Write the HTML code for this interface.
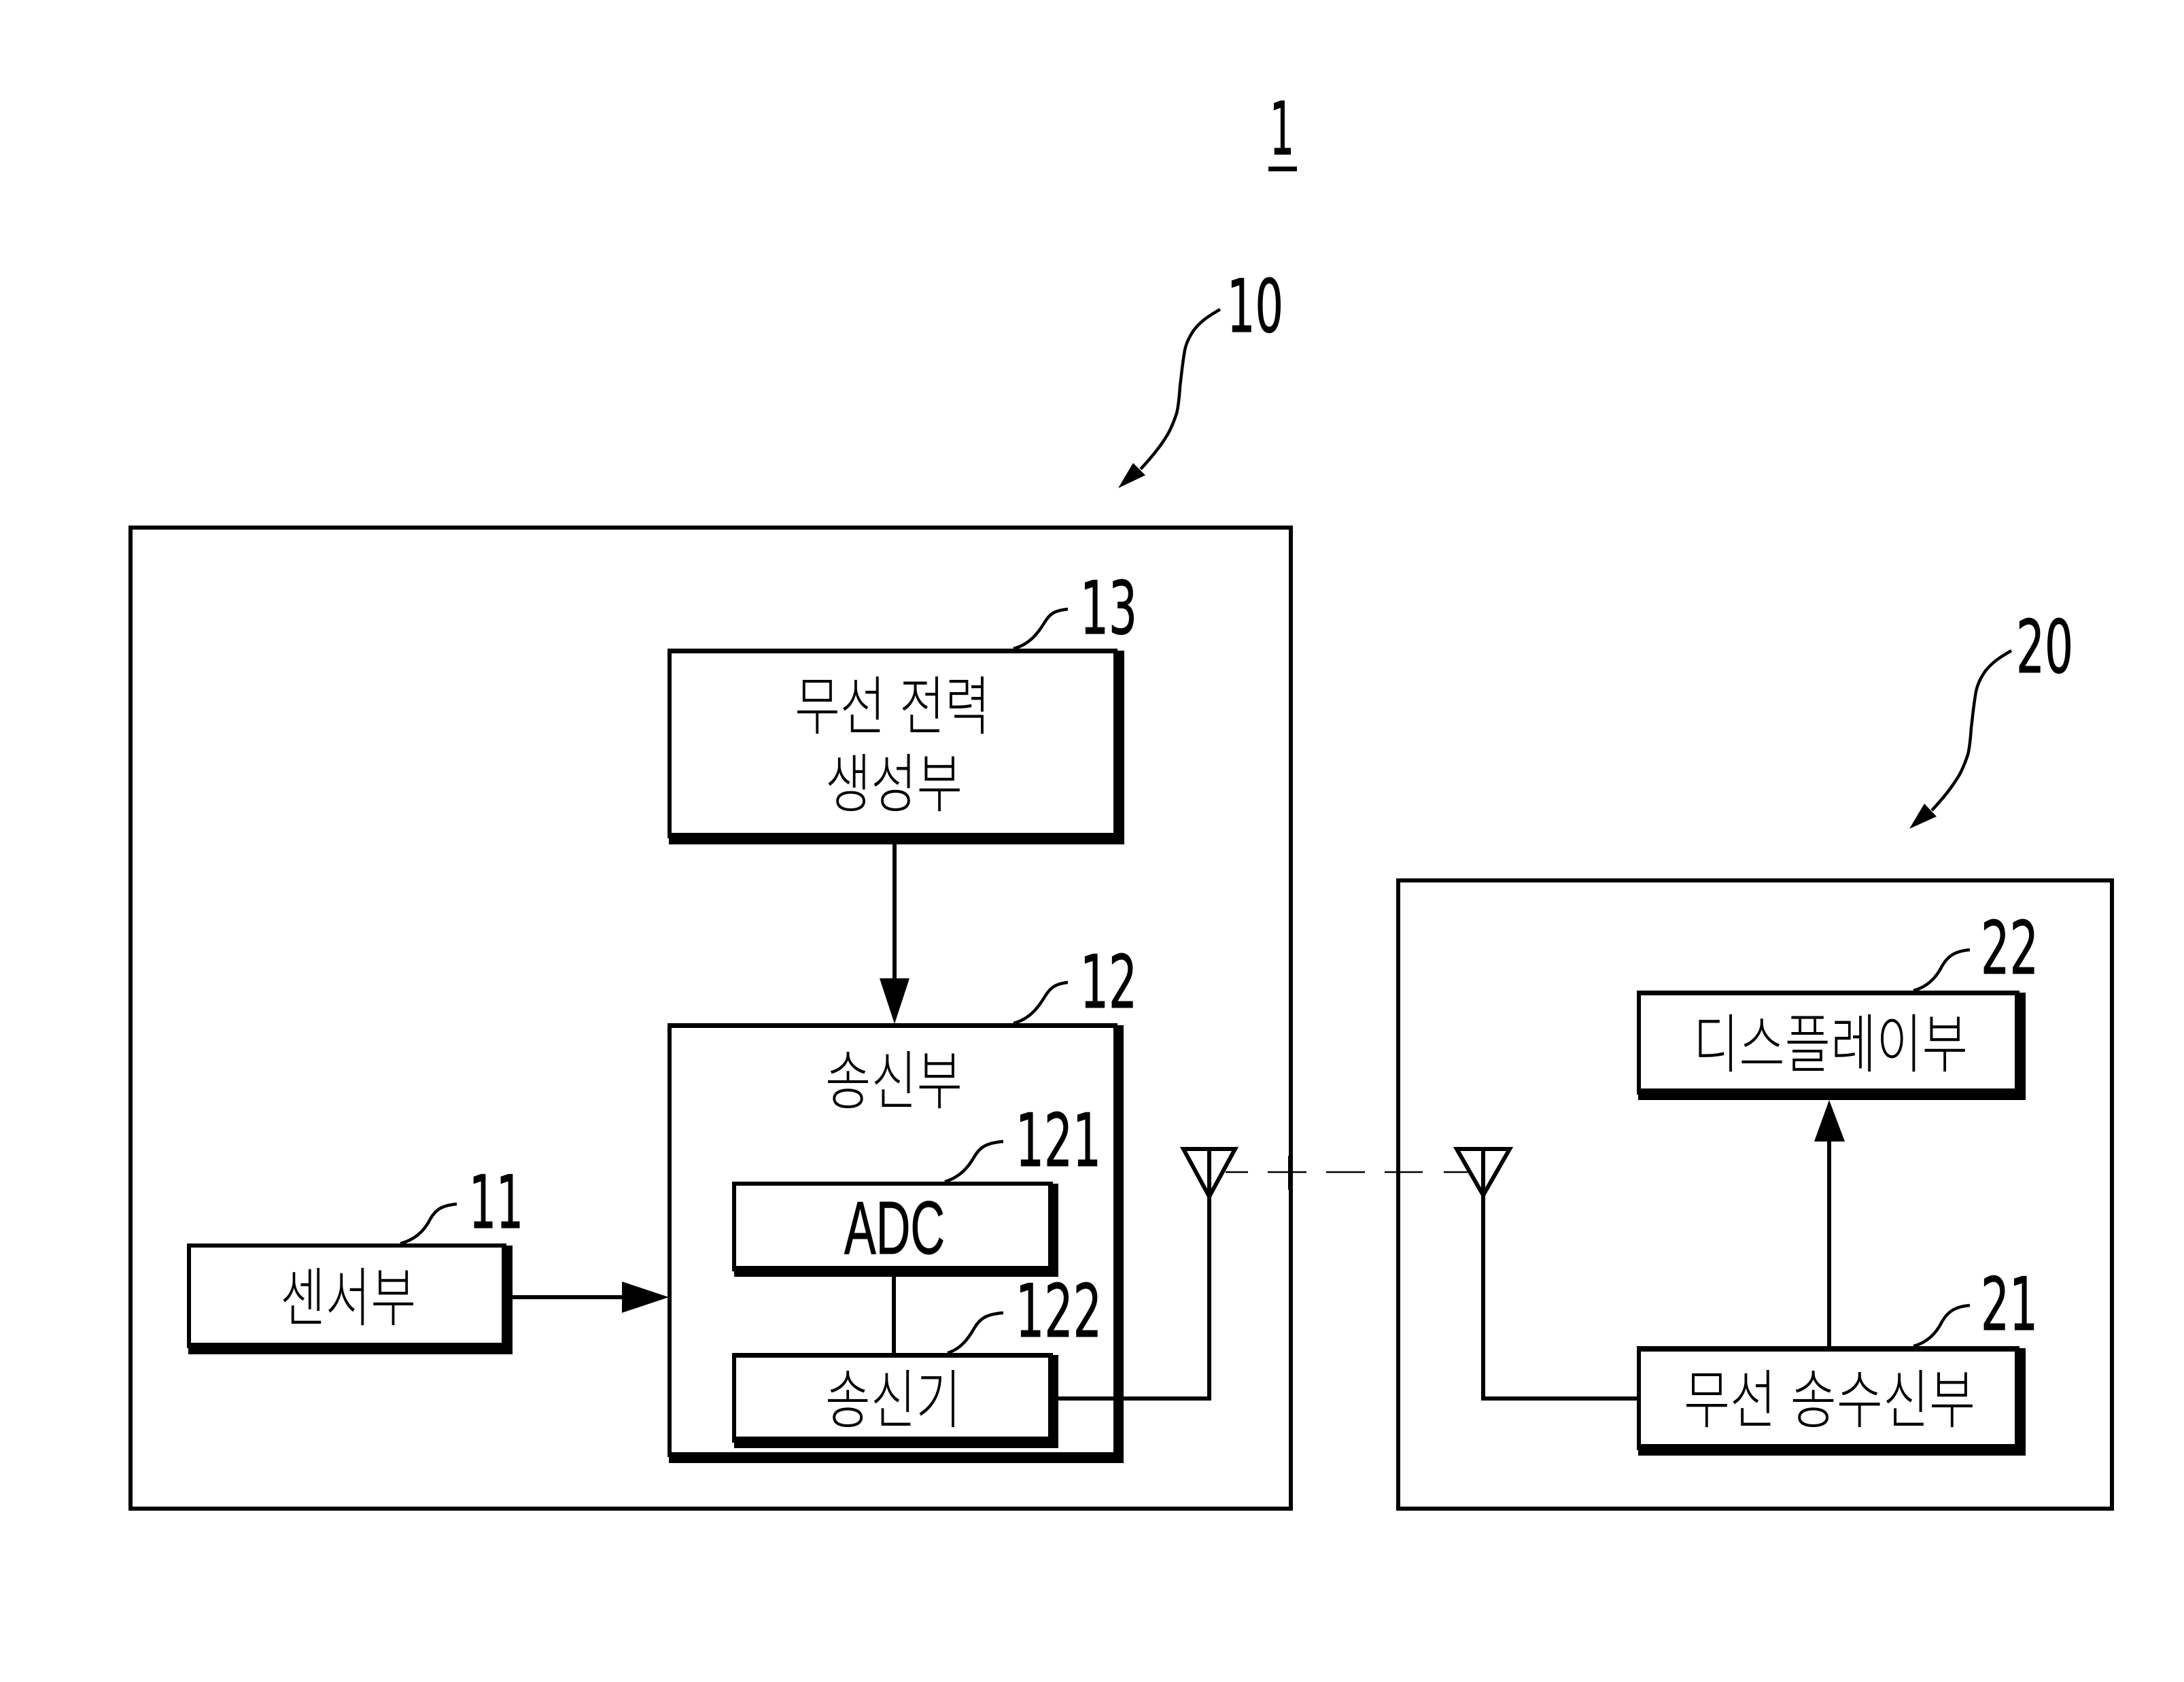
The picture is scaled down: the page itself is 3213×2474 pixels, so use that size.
<!DOCTYPE html>
<html lang="ko"><head><meta charset="utf-8"><title>Diagram</title>
<style>html,body{margin:0;padding:0;background:#fff}svg{display:block}
.n{font-family:"DejaVu Sans",sans-serif;font-size:108px;fill:#000;stroke:#000;stroke-width:1}
.k{font-family:"Noto Sans CJK KR","Liberation Sans",sans-serif;font-size:94px;font-weight:300;fill:#000}
</style></head><body>
<svg xmlns="http://www.w3.org/2000/svg" width="3213" height="2474" viewBox="0 0 3213 2474">
<rect width="3213" height="2474" fill="#fff"/>
<g fill="none" stroke="#000" stroke-width="6">
<rect x="192" y="776" width="1707" height="1443"/>
<rect x="2057" y="1295" width="1050" height="924"/>
</g>
<g fill="#000">
<!-- shadowed boxes: outer black, inner white -->
<path d="M982 954H1644V957H1654V1242H984V1233H982Z"/><rect x="988" y="961" width="650" height="264" fill="#fff"/>
<path d="M982 1505H1644V1508H1653V2152H984V2143H982Z"/><rect x="988" y="1512" width="650" height="624" fill="#fff"/>
<path d="M1077 1738H1549V1741H1557V1878H1080V1870H1077Z"/><rect x="1083" y="1744" width="459" height="118" fill="#fff"/>
<path d="M1077 1990H1549V1993H1557V2130H1080V2122H1077Z"/><rect x="1083" y="1997" width="459" height="116" fill="#fff"/>
<path d="M275 1829H745V1832H754V1992H277V1983H275Z"/><rect x="281" y="1835" width="457" height="140" fill="#fff"/>
<path d="M2408 1457H2971V1460H2980V1618H2410V1610H2408Z"/><rect x="2414" y="1464" width="550" height="137" fill="#fff"/>
<path d="M2408 1980H2971V1983H2980V2141H2410V2133H2408Z"/><rect x="2414" y="1988" width="550" height="136" fill="#fff"/>
<!-- arrowheads -->
<path d="M1294 1439H1338L1316 1506Z"/>
<path d="M915 1885V1931L984 1908Z"/>
<path d="M2669 1679H2714L2691 1618Z"/>
<path d="M1645 718L1667 681L1685 699Z"/>
<path d="M2809 1219L2831 1182L2849 1201Z"/>
</g>
<!-- connectors -->
<g fill="none" stroke="#000" stroke-width="6">
<path d="M1316 1242V1445"/>
<path d="M754 1908H920"/>
<path d="M2691 1980V1675"/>
<path d="M1315 1878V1990"/>
<path d="M1557 2057H1779V1688"/>
<path d="M2408 2057H2182V1688"/>
<path d="M1741 1690H1817L1779 1760Z"/>
<path d="M2143 1690H2221L2182 1758Z"/>
</g>
<path d="M1803 1724H1836M1865 1724H1922M1951 1724H2008M2037 1724H2093M2124 1724H2162" fill="none" stroke="#000" stroke-width="2.5"/>
<rect x="1895" y="1700" width="6" height="50"/>
<!-- leaders -->
<g fill="none" stroke="#000" stroke-width="4.5">
<path d="M1795 455C1776 466 1766 473 1756 486C1748 498 1745 506 1743 515C1739 538 1738 553 1736 568C1735 583 1734 596 1731 608C1726 623 1721 635 1714 645C1704 661 1691 676 1678 690"/>
<path d="M2959 957C2940 968 2930 975 2920 988C2912 1000 2909 1008 2907 1017C2903 1040 2902 1055 2900 1070C2899 1085 2898 1098 2895 1110C2890 1125 2885 1137 2878 1147C2868 1163 2855 1178 2842 1192"/>
<path d="M1491 954C1515 948 1528 930 1537 915C1545 902 1552 898 1571 896"/>
<path d="M1491 1505C1515 1499 1528 1481 1537 1466C1545 1453 1552 1447 1571 1445"/>
<path d="M1390 1738C1412 1732 1425 1716 1433 1702C1441 1688 1450 1681 1476 1679"/>
<path d="M1394 1990C1414 1984 1425 1968 1433 1954C1441 1940 1450 1933 1476 1931"/>
<path d="M589 1829C613 1823 626 1807 633 1793C641 1779 650 1773 672 1771"/>
<path d="M2815 1457C2838 1451 2850 1435 2857 1421C2865 1407 2875 1399 2898 1397"/>
<path d="M2815 1980C2838 1974 2850 1958 2857 1944C2865 1930 2875 1922 2898 1920"/>
</g>
<!-- numbers -->
<text class="n" x="1868" y="227" textLength="36" lengthAdjust="spacingAndGlyphs">1</text>
<rect x="1866" y="245" width="42" height="7"/>
<text class="n" x="1805" y="488" textLength="83" lengthAdjust="spacingAndGlyphs">10</text>
<text class="n" x="2966" y="989" textLength="84" lengthAdjust="spacingAndGlyphs">20</text>
<text class="n" x="1589" y="932" textLength="84" lengthAdjust="spacingAndGlyphs">13</text>
<text class="n" x="1589" y="1482" textLength="84" lengthAdjust="spacingAndGlyphs">12</text>
<text class="n" x="1494" y="1715" textLength="126" lengthAdjust="spacingAndGlyphs">121</text>
<text class="n" x="1494" y="1966" textLength="127" lengthAdjust="spacingAndGlyphs">122</text>
<text class="n" x="690" y="1806" textLength="80" lengthAdjust="spacingAndGlyphs">11</text>
<text class="n" x="2914" y="1432" textLength="85" lengthAdjust="spacingAndGlyphs">22</text>
<text class="n" x="2914" y="1956" textLength="84" lengthAdjust="spacingAndGlyphs">21</text>
<text x="1242" y="1844" textLength="148" lengthAdjust="spacingAndGlyphs" font-family="Liberation Sans, sans-serif" font-size="110" stroke="#000" stroke-width="1">ADC</text>
<!-- hangul -->
<text class="k" x="1169" y="1072" textLength="288" lengthAdjust="spacingAndGlyphs" xml:space="preserve">무선 전력</text>
<text class="k" x="1214" y="1186" textLength="202" lengthAdjust="spacingAndGlyphs">생성부</text>
<text class="k" x="1214" y="1623" textLength="202" lengthAdjust="spacingAndGlyphs">송신부</text>
<text class="k" x="1214" y="2092" textLength="200" lengthAdjust="spacingAndGlyphs">송신기</text>
<text class="k" x="412" y="1942" textLength="200" lengthAdjust="spacingAndGlyphs">센서부</text>
<text class="k" x="2491" y="1569" textLength="404" lengthAdjust="spacingAndGlyphs">디스플레이부</text>
<text class="k" x="2477" y="2092" textLength="429" lengthAdjust="spacingAndGlyphs" xml:space="preserve">무선 송수신부</text>
</svg>
</body></html>
